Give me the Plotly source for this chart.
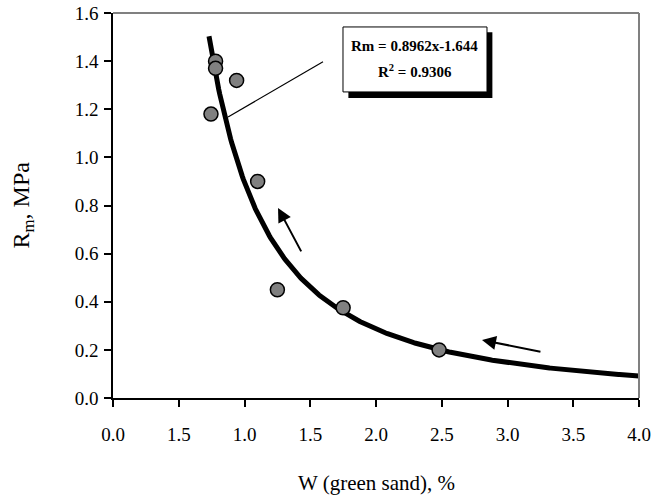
import numpy as np
import plotly.graph_objects as go

# Data
w_vals = [0.745, 0.78, 0.78, 0.94, 1.10, 1.25, 1.75, 2.48]
rm_vals = [1.18, 1.40, 1.37, 1.32, 0.90, 0.45, 0.375, 0.20]

# Power trendline shown on the chart: Rm = 0.8962 x^-1.644
fit_a = 0.8962
fit_b = -1.644
fit_x_start = 0.73
fit_x_end = 4.0

x_tick_vals = [0.0, 0.5, 1.0, 1.5, 2.0, 2.5, 3.0, 3.5, 4.0]
x_tick_text = ["0.0", "1.5", "1.0", "1.5", "2.0", "2.5", "3.0", "3.5", "4.0"]
y_tick_vals = [0.0, 0.2, 0.4, 0.6, 0.8, 1.0, 1.2, 1.4, 1.6]

eq_line1 = "Rm = 0.8962x-1.644"
eq_line2 = "R<sup>2</sup> = 0.9306"
x_title = "W (green sand), %"
y_title = "R<sub>m</sub>, MPa"

FONT = "Liberation Serif, Times New Roman, serif"

fx = np.linspace(fit_x_start, fit_x_end, 400)
fy = fit_a * fx ** fit_b

fig = go.Figure()
fig.add_trace(go.Scatter(x=fx, y=fy, mode="lines",
                         line=dict(color="black", width=5), hoverinfo="skip"))
fig.add_trace(go.Scatter(x=w_vals, y=rm_vals, mode="markers",
                         marker=dict(size=14, color="#808080",
                                     line=dict(color="black", width=1.5))))

shapes = []
# top and right gray frame
shapes.append(dict(type="line", xref="paper", yref="paper", x0=0, x1=1, y0=1, y1=1,
                   line=dict(color="#808080", width=2)))
shapes.append(dict(type="line", xref="paper", yref="paper", x0=1, x1=1, y0=0, y1=1,
                   line=dict(color="#808080", width=2)))
# equation box shadow and box
shapes.append(dict(type="rect", xref="x", yref="y", x0=1.79, x1=2.885, y0=1.247, y1=1.52,
                   fillcolor="black", line=dict(color="black", width=0)))
shapes.append(dict(type="rect", xref="x", yref="y", x0=1.749, x1=2.844, y0=1.272, y1=1.542,
                   fillcolor="white", line=dict(color="black", width=1)))
# leader line
shapes.append(dict(type="line", xref="x", yref="y", x0=0.875, y0=1.168, x1=1.597, y1=1.397,
                   line=dict(color="black", width=1.2)))
fig.update_layout(shapes=shapes)

annotations = [
    dict(x=2.2965, y=1.463, xref="x", yref="y", text="<b>" + eq_line1 + "</b>",
         showarrow=False, font=dict(family=FONT, size=15, color="black")),
    dict(x=2.2965, y=1.359, xref="x", yref="y", text="<b>" + eq_line2 + "</b>",
         showarrow=False, font=dict(family=FONT, size=15, color="black")),
    # arrows
    dict(x=1.255, y=0.79, ax=1.437, ay=0.603, xref="x", yref="y", axref="x", ayref="y",
         text="", showarrow=True, arrowhead=2, arrowsize=1.4, arrowwidth=2, arrowcolor="black"),
    dict(x=2.806, y=0.241, ax=3.262, ay=0.191, xref="x", yref="y", axref="x", ayref="y",
         text="", showarrow=True, arrowhead=2, arrowsize=1.4, arrowwidth=2, arrowcolor="black"),
    # axis titles
    dict(x=0.5, y=-0.221, xref="paper", yref="paper", text=x_title, showarrow=False,
         xanchor="center", yanchor="middle", font=dict(family=FONT, size=21, color="black")),
    dict(x=-0.173, y=0.5, xref="paper", yref="paper", text=y_title, showarrow=False,
         textangle=-90, xanchor="center", yanchor="middle",
         font=dict(family=FONT, size=24, color="black")),
]
fig.update_layout(annotations=annotations)

fig.update_xaxes(range=[0, 4], tickvals=x_tick_vals, ticktext=x_tick_text,
                 showgrid=False, zeroline=False, showline=True, linecolor="black", linewidth=1.5,
                 ticks="outside", ticklen=7, tickcolor="black", tickwidth=1.5,
                 ticklabelstandoff=11, automargin=False,
                 tickfont=dict(family=FONT, size=19, color="black"))
fig.update_yaxes(range=[0, 1.6], tickvals=y_tick_vals, tickformat=".1f",
                 showgrid=False, zeroline=False, showline=True, linecolor="black", linewidth=1.5,
                 ticks="outside", ticklen=7, tickcolor="black", tickwidth=1.5,
                 ticklabelstandoff=2, automargin=False,
                 tickfont=dict(family=FONT, size=19, color="black"))
fig.update_layout(width=656, height=500, showlegend=False,
                  plot_bgcolor="white", paper_bgcolor="white",
                  margin=dict(l=113, r=17, t=13, b=102))
fig.write_html("out.html", config={"displayModeBar": False},
               post_script="document.body.style.margin='0';")
